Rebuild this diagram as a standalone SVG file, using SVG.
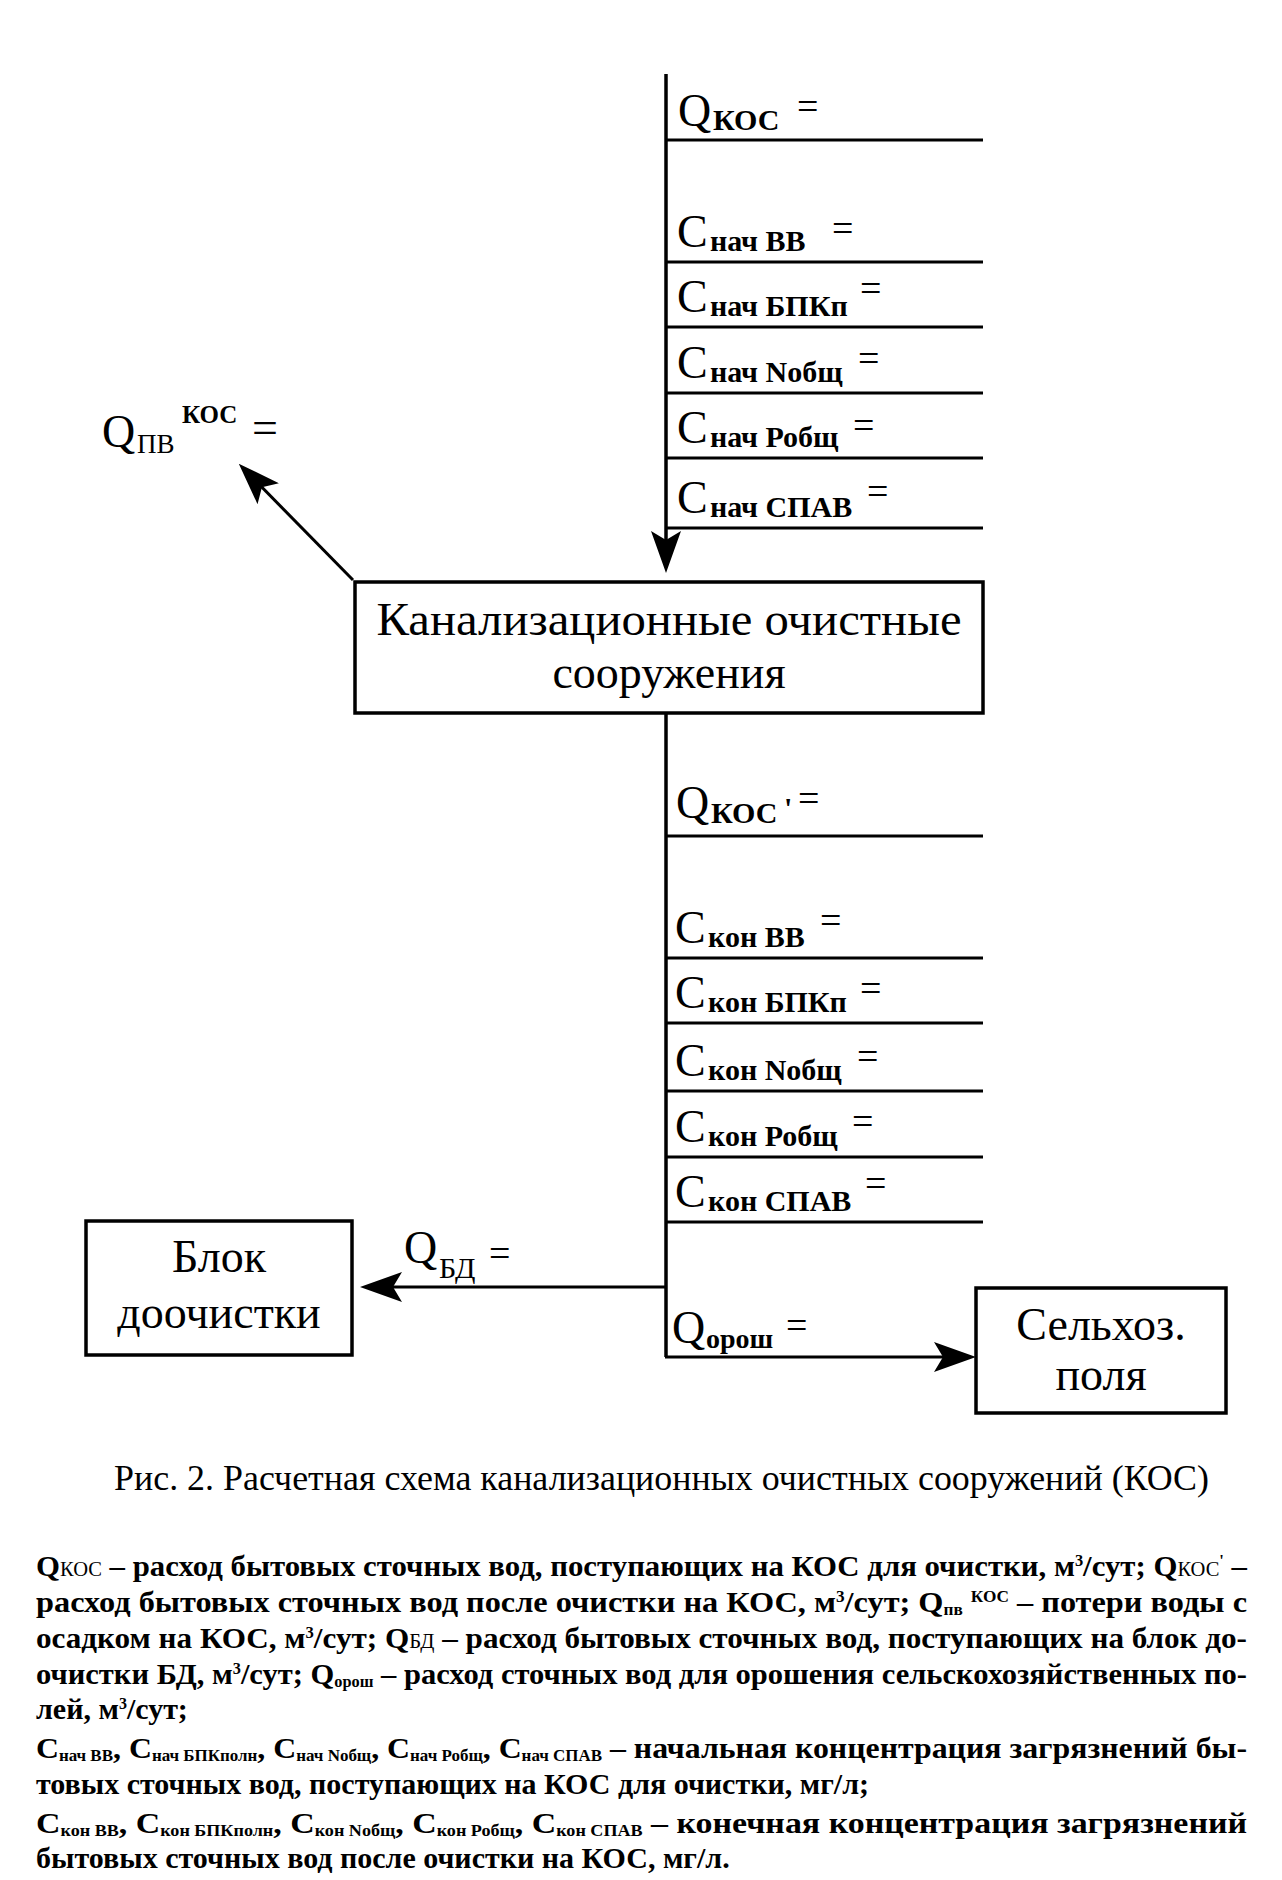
<svg xmlns="http://www.w3.org/2000/svg" width="1282" height="1880" viewBox="0 0 1282 1880">
<style>
text{font-family:"Liberation Serif","Times New Roman",serif;fill:#000}
.ln{stroke:#000;stroke-width:3;fill:none}
.vl{stroke:#000;stroke-width:3.5;fill:none}
.box{fill:#fff;stroke:#000;stroke-width:3.5}
.big{font-size:46px}
.sub{font-size:30px;font-weight:bold}
.eq{font-size:38px}
.node{font-size:46px;text-anchor:middle}
.cap{font-size:36px}
.leg{font-size:30px;font-weight:bold}
.ls{font-size:20px;font-weight:normal}
.lt{font-size:16px}
</style>
<defs>
<marker id="ah" markerUnits="userSpaceOnUse" viewBox="0 0 42 30" refX="36" refY="15" markerWidth="42" markerHeight="30" orient="auto">
<path d="M0,0 L42,15 L0,30 L9,15 z" fill="#000"/>
</marker>
</defs>
<rect width="1282" height="1880" fill="#fff"/>

<g id="connectors">
<line class="vl" x1="666" y1="74" x2="666" y2="567" marker-end="url(#ah)"/>
<line class="vl" x1="666" y1="713" x2="666" y2="1357"/>
<line class="ln" x1="666" y1="140" x2="983" y2="140"/>
<line class="ln" x1="666" y1="262" x2="983" y2="262"/>
<line class="ln" x1="666" y1="327" x2="983" y2="327"/>
<line class="ln" x1="666" y1="393" x2="983" y2="393"/>
<line class="ln" x1="666" y1="458" x2="983" y2="458"/>
<line class="ln" x1="666" y1="528" x2="983" y2="528"/>
<line class="ln" x1="666" y1="836" x2="983" y2="836"/>
<line class="ln" x1="666" y1="958" x2="983" y2="958"/>
<line class="ln" x1="666" y1="1023" x2="983" y2="1023"/>
<line class="ln" x1="666" y1="1091" x2="983" y2="1091"/>
<line class="ln" x1="666" y1="1157" x2="983" y2="1157"/>
<line class="ln" x1="666" y1="1222" x2="983" y2="1222"/>
<line class="ln" x1="666" y1="1287" x2="366" y2="1287" marker-end="url(#ah)"/>
<line class="ln" x1="665" y1="1357" x2="970" y2="1357" marker-end="url(#ah)"/>
<line class="ln" x1="353" y1="580" x2="243" y2="468" marker-end="url(#ah)"/>
</g>

<g id="labels-in">
<text class="big" x="678" y="126">Q</text><text class="sub" x="713" y="130">КОС</text><text class="eq" x="797" y="119">=</text>
<text class="big" x="677" y="247">С</text><text class="sub" x="710" y="251">нач ВВ</text><text class="eq" x="832" y="241">=</text>
<text class="big" x="677" y="312">С</text><text class="sub" x="710" y="316">нач БПКп</text><text class="eq" x="860" y="301">=</text>
<text class="big" x="677" y="378">С</text><text class="sub" x="710" y="382">нач Nобщ</text><text class="eq" x="858" y="371">=</text>
<text class="big" x="677" y="443">С</text><text class="sub" x="710" y="447">нач Робщ</text><text class="eq" x="853" y="438">=</text>
<text class="big" x="677" y="513">С</text><text class="sub" x="710" y="517">нач СПАВ</text><text class="eq" x="867" y="504">=</text>
</g>

<g id="labels-out">
<text class="big" x="676" y="818">Q</text><text class="sub" x="711" y="823">КОС</text><text class="sub" x="784" y="818">'</text><text class="eq" x="798" y="811">=</text>
<text class="big" x="675" y="943">С</text><text class="sub" x="708" y="947">кон ВВ</text><text class="eq" x="820" y="933">=</text>
<text class="big" x="675" y="1008">С</text><text class="sub" x="708" y="1012">кон БПКп</text><text class="eq" x="860" y="1001">=</text>
<text class="big" x="675" y="1076">С</text><text class="sub" x="708" y="1080">кон Nобщ</text><text class="eq" x="857" y="1069">=</text>
<text class="big" x="675" y="1142">С</text><text class="sub" x="708" y="1146">кон Робщ</text><text class="eq" x="852" y="1134">=</text>
<text class="big" x="675" y="1207">С</text><text class="sub" x="708" y="1211">кон СПАВ</text><text class="eq" x="865" y="1196">=</text>
<text class="big" x="672" y="1343">Q</text><text class="sub" x="706" y="1348" style="font-size:28px">орош</text><text class="eq" x="786" y="1338">=</text>
<text class="big" x="404" y="1263">Q</text><text x="439" y="1278" style="font-size:30px">БД</text><text class="eq" x="489" y="1266">=</text>
<text class="big" x="102" y="447">Q</text><text x="137" y="453" style="font-size:27px">ПВ</text><text x="182" y="423" style="font-size:25px;font-weight:bold">КОС</text><text x="252" y="443" style="font-size:46px">=</text>
</g>

<g id="node-kos">
<rect class="box" x="355" y="582" width="628" height="131"/>
<text class="node" x="669" y="635" textLength="585" lengthAdjust="spacingAndGlyphs">Канализационные очистные</text>
<text class="node" x="669" y="688">сооружения</text>
</g>

<g id="node-block">
<rect class="box" x="86" y="1221" width="266" height="134"/>
<text class="node" x="219" y="1272">Блок</text>
<text class="node" x="219" y="1328">доочистки</text>
</g>

<g id="node-fields">
<rect class="box" x="976" y="1288" width="250" height="125"/>
<text class="node" x="1101" y="1340">Сельхоз.</text>
<text class="node" x="1101" y="1390">поля</text>
</g>

<g id="caption">
<text class="cap" x="114" y="1490" textLength="1095" lengthAdjust="spacingAndGlyphs">Рис. 2. Расчетная схема канализационных очистных сооружений (КОС)</text>
</g>

<g id="legend">
<text class="leg" x="36" y="1576" textLength="1211" lengthAdjust="spacingAndGlyphs">Q<tspan class="ls">КОС</tspan> – расход бытовых сточных вод, поступающих на КОС для очистки, м<tspan class="lt" baseline-shift="10">3</tspan>/сут; Q<tspan class="ls">КОС</tspan><tspan class="lt" baseline-shift="10">'</tspan> –</text>
<text class="leg" x="36" y="1612" textLength="1211" lengthAdjust="spacingAndGlyphs">расход бытовых сточных вод после очистки на КОС, м<tspan class="lt" baseline-shift="10">3</tspan>/сут; Q<tspan class="lt" baseline-shift="-3">пв</tspan> <tspan class="lt" baseline-shift="10">КОС</tspan> – потери воды с</text>
<text class="leg" x="36" y="1648" textLength="1211" lengthAdjust="spacingAndGlyphs">осадком на КОС, м<tspan class="lt" baseline-shift="10">3</tspan>/сут; Q<tspan class="ls">БД</tspan> – расход бытовых сточных вод, поступающих на блок до-</text>
<text class="leg" x="36" y="1684" textLength="1211" lengthAdjust="spacingAndGlyphs">очистки БД, м<tspan class="lt" baseline-shift="10">3</tspan>/сут; Q<tspan class="lt" baseline-shift="-3">орош</tspan> – расход сточных вод для орошения сельскохозяйственных по-</text>
<text class="leg" x="36" y="1719">лей, м<tspan class="lt" baseline-shift="10">3</tspan>/сут;</text>
<text class="leg" x="36" y="1758" textLength="1211" lengthAdjust="spacingAndGlyphs">С<tspan class="lt" baseline-shift="-3">нач ВВ</tspan>, С<tspan class="lt" baseline-shift="-3">нач БПКполн</tspan>, С<tspan class="lt" baseline-shift="-3">нач Nобщ</tspan>, С<tspan class="lt" baseline-shift="-3">нач Робщ</tspan>, С<tspan class="lt" baseline-shift="-3">нач СПАВ</tspan> – начальная концентрация загрязнений бы-</text>
<text class="leg" x="36" y="1794">товых сточных вод, поступающих на КОС для очистки, мг/л;</text>
<text class="leg" x="36" y="1833" textLength="1211" lengthAdjust="spacingAndGlyphs">С<tspan class="lt" baseline-shift="-3">кон ВВ</tspan>, С<tspan class="lt" baseline-shift="-3">кон БПКполн</tspan>, С<tspan class="lt" baseline-shift="-3">кон Nобщ</tspan>, С<tspan class="lt" baseline-shift="-3">кон Робщ</tspan>, С<tspan class="lt" baseline-shift="-3">кон СПАВ</tspan> – конечная концентрация загрязнений</text>
<text class="leg" x="36" y="1868">бытовых сточных вод после очистки на КОС, мг/л.</text>
</g>
</svg>
